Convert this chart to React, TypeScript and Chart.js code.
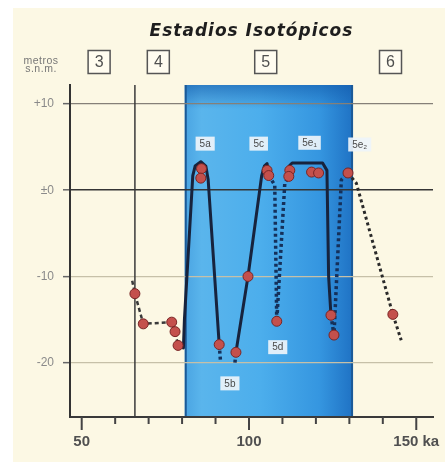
import React, { useEffect, useRef } from 'react';
import { Chart, registerables } from 'chart.js';

Chart.register(...registerables);

const W = 445;
const H = 462;

// Axis ranges (ka, metres a.s.l.)
const xMin = 46.5;
const xMax = 155;
const yMin = -26.3;
const yMax = 12.2;

const xTickValues = [50, 60, 70, 80, 90, 100, 110, 120, 130, 140, 150];
const xMajorValues = [50, 100, 150];
const xMajorLabels = ['50', '100', '150 ka'];
const yTickValues = [10, 0, -10, -20];
const yTickLabels = ['+10', '±0', '-10', '-20'];

// Isotope stages
const stageLabels = ['3', '4', '5', '6'];
const stageCenters = [55.2, 72.9, 105.0, 142.3];
const stageBoundary = 65.9;
const stage5Start = 80.8;
const stage5End = 131.1;

// Sample points (red circles)
const sampleX = [65.9, 68.4, 76.9, 77.9, 78.8, 85.8, 85.6, 91.1, 96.1, 99.7, 105.4, 105.9, 108.3, 112.2, 111.9, 118.7, 120.8, 124.5, 125.4, 129.6, 143.0];
const sampleY = [-12.0, -15.5, -15.3, -16.4, -18.0, 2.5, 1.4, -17.9, -18.8, -10.0, 2.3, 1.7, -15.2, 2.3, 1.6, 2.1, 2.0, -14.5, -16.8, 2.0, -14.4];

// Sea-level curve pieces
const leftPathX = [65.1, 65.9, 68.4, 76.9, 77.9, 78.8];
const leftPathY = [-10.5, -12.0, -15.5, -15.3, -16.4, -18.0];

const solid5aX = [80.4, 80.7, 83.2, 83.9, 85.6, 87.1, 87.8, 91.1];
const solid5aY = [-18.3, -15.0, 1.7, 2.8, 3.3, 2.8, 1.2, -17.9];

const stub5bLeftX = [91.1, 91.5];
const stub5bLeftY = [-17.9, -19.9];
const stub5bRightX = [95.8, 96.1];
const stub5bRightY = [-20.0, -18.8];

const solid5cX = [96.1, 99.7, 103.8, 104.6, 105.4, 105.9];
const solid5cY = [-18.8, -10.0, 1.7, 2.8, 3.1, 1.7];

const dotted5dX = [105.9, 107.7, 108.3, 110.7, 111.9];
const dotted5dY = [1.7, 0.6, -15.2, 0.8, 1.6];

const solid5eX = [111.9, 112.0, 112.9, 122.0, 123.3, 123.8, 124.5];
const solid5eY = [1.6, 2.8, 3.15, 3.15, 2.3, -10.0, -14.5];

const dotted5eX = [124.5, 125.4, 127.6, 129.6];
const dotted5eY = [-14.5, -16.8, 1.2, 2.0];

const rightPathX = [129.6, 132.1, 143.0, 145.5];
const rightPathY = [2.0, 0.8, -14.4, -17.4];

// Sub-stage labels
const peakLabels = ['5a', '5c', '5e₁', '5e₂', '5b', '5d'];
const peakLabelX = [86.9, 102.9, 118.1, 133.1, 94.3, 108.6];
const peakLabelY = [5.4, 5.4, 5.5, 5.3, -22.4, -18.2];

function zip(xs: number[], ys: number[]) {
  return xs.map((x, i) => ({ x, y: ys[i] }));
}

function lineDs(label: string, xs: number[], ys: number[], color: string, width: number, dash: number[], cap: string = 'butt') {
  return {
    label,
    data: zip(xs, ys),
    showLine: true,
    borderColor: color,
    backgroundColor: color,
    borderWidth: width,
    borderDash: dash,
    borderCapStyle: cap,
    borderJoinStyle: 'round',
    pointRadius: 0,
    pointHoverRadius: 0,
    tension: 0,
    fill: false,
    order: 2,
  };
}

const decor = {
  id: 'decor',
  beforeDraw(chart: any) {
    const { ctx, chartArea: a, scales } = chart;
    const x = scales.x;
    ctx.save();
    ctx.fillStyle = '#fcf8e4';
    ctx.fillRect(13, 8, W - 13, H - 8);
    const bx0 = x.getPixelForValue(stage5Start);
    const bx1 = x.getPixelForValue(stage5End);
    const g = ctx.createLinearGradient(bx0, 0, bx1, 0);
    g.addColorStop(0, '#4aa4e2');
    g.addColorStop(0.1, '#5ab5ec');
    g.addColorStop(0.45, '#4caeec');
    g.addColorStop(0.8, '#3596e0');
    g.addColorStop(1, '#1f72c4');
    ctx.fillStyle = g;
    ctx.fillRect(bx0, a.top, bx1 - bx0, a.bottom - a.top);
    const gv = ctx.createLinearGradient(0, a.top, 0, a.top + 24);
    gv.addColorStop(0, 'rgba(18,90,170,0.6)');
    gv.addColorStop(1, 'rgba(18,90,170,0)');
    ctx.fillStyle = gv;
    ctx.fillRect(bx0, a.top, bx1 - bx0, 24);
    ctx.strokeStyle = '#1b5a98';
    ctx.lineWidth = 2;
    ctx.beginPath();
    ctx.moveTo(bx0 + 1, a.top);
    ctx.lineTo(bx0 + 1, a.bottom);
    ctx.moveTo(bx1 - 1, a.top);
    ctx.lineTo(bx1 - 1, a.bottom);
    ctx.stroke();
    ctx.restore();
  },
  beforeDatasetsDraw(chart: any) {
    const { ctx, chartArea: a, scales } = chart;
    const px = scales.x.getPixelForValue(stageBoundary);
    ctx.save();
    ctx.strokeStyle = '#3a3a3a';
    ctx.lineWidth = 1.5;
    ctx.beginPath();
    ctx.moveTo(px, a.top);
    ctx.lineTo(px, a.bottom);
    ctx.stroke();
    ctx.restore();
  },
  afterDatasetsDraw(chart: any) {
    const { ctx, scales } = chart;
    ctx.save();
    ctx.font = '10px "Liberation Sans", "DejaVu Sans", sans-serif';
    ctx.textAlign = 'center';
    ctx.textBaseline = 'middle';
    peakLabels.forEach((t, i) => {
      const cx = scales.x.getPixelForValue(peakLabelX[i]);
      const cy = scales.y.getPixelForValue(peakLabelY[i]);
      const w = ctx.measureText(t).width + 8;
      ctx.fillStyle = 'rgba(238,244,250,0.92)';
      ctx.fillRect(cx - w / 2, cy - 7, w, 14);
      ctx.fillStyle = '#4a4a4a';
      ctx.fillText(t, cx, cy + 0.5);
    });
    ctx.restore();
  },
  afterDraw(chart: any) {
    const { ctx, chartArea: a, scales } = chart;
    const x = scales.x;
    ctx.save();
    // x tick marks
    ctx.strokeStyle = '#444';
    ctx.lineWidth = 2;
    xTickValues.forEach((v) => {
      const p = x.getPixelForValue(v);
      const len = xMajorValues.includes(v) ? 13 : 7;
      ctx.beginPath();
      ctx.moveTo(p, a.bottom);
      ctx.lineTo(p, a.bottom + len);
      ctx.stroke();
    });
    // title
    ctx.fillStyle = '#1e1e1e';
    ctx.font = 'italic bold 17px "DejaVu Sans", sans-serif';
    (ctx as any).letterSpacing = '1px';
    ctx.textAlign = 'center';
    ctx.textBaseline = 'middle';
    ctx.fillText('Estadios Isotópicos', (a.left + a.right) / 2, 32);
    (ctx as any).letterSpacing = '0px';
    // stage boxes
    stageLabels.forEach((t, i) => {
      const cx = x.getPixelForValue(stageCenters[i]);
      const cy = a.top - 23;
      ctx.fillStyle = '#fffcf0';
      ctx.fillRect(cx - 11, cy - 11.5, 22, 23);
      ctx.strokeStyle = '#555';
      ctx.lineWidth = 1.5;
      ctx.strokeRect(cx - 11, cy - 11.5, 22, 23);
      ctx.fillStyle = '#505050';
      ctx.font = '16px "Liberation Sans", sans-serif';
      ctx.fillText(t, cx, cy + 1);
    });
    // y axis unit
    ctx.fillStyle = '#777';
    ctx.font = '10.5px "Liberation Sans", sans-serif';
    (ctx as any).letterSpacing = '0.5px';
    ctx.fillText('metros', 41, 61);
    ctx.fillText('s.n.m.', 41, 69.5);
    (ctx as any).letterSpacing = '0px';
    ctx.restore();
  },
};

export default function App() {
  const ref = useRef<HTMLCanvasElement | null>(null);
  useEffect(() => {
    if (!ref.current) return;
    const chart = new Chart(ref.current, {
      type: 'scatter',
      data: {
        datasets: [
          {
            label: 'muestras',
            data: zip(sampleX, sampleY),
            pointRadius: 5,
            pointHoverRadius: 5,
            pointBackgroundColor: '#c4504c',
            pointBorderColor: '#7a2626',
            pointBorderWidth: 1,
            showLine: false,
            order: 0,
          } as any,
          lineDs('4', leftPathX, leftPathY, '#3a3a3a', 2.5, [4, 3]),
          lineDs('5a', solid5aX, solid5aY, '#17233d', 3, [], 'round'),
          lineDs('5b-i', stub5bLeftX, stub5bLeftY, '#15305a', 3.5, [3, 3]),
          lineDs('5b-d', stub5bRightX, stub5bRightY, '#15305a', 3.5, [3, 3]),
          lineDs('5c', solid5cX, solid5cY, '#17233d', 3, [], 'round'),
          lineDs('5d', dotted5dX, dotted5dY, '#15305a', 3.5, [3, 3]),
          lineDs('5e', solid5eX, solid5eY, '#17233d', 3, [], 'round'),
          lineDs('5e-b', dotted5eX, dotted5eY, '#15305a', 3.5, [3, 3]),
          lineDs('6', rightPathX, rightPathY, '#2a2a2a', 3, [3, 3]),
        ] as any,
      },
      options: {
        responsive: false,
        animation: false,
        devicePixelRatio: 1,
        events: [],
        layout: { padding: { top: 85, right: 12, left: 0, bottom: 0 } },
        plugins: { legend: { display: false }, tooltip: { enabled: false }, title: { display: false } },
        scales: {
          x: {
            type: 'linear',
            min: xMin,
            max: xMax,
            afterFit: (s: any) => {
              s.height = H - 417;
              s.paddingLeft = 0;
              s.paddingRight = 0;
            },
            afterBuildTicks: (s: any) => {
              s.ticks = xTickValues.map((v) => ({ value: v }));
            },
            grid: { drawOnChartArea: false, drawTicks: false },
            border: { display: true, color: '#3a3a3a', width: 2 },
            ticks: {
              autoSkip: false,
              maxRotation: 0,
              padding: 16,
              color: '#505050',
              font: { family: '"Liberation Sans", sans-serif', size: 15, weight: 'bold' },
              callback: (v: any) => {
                const i = xMajorValues.indexOf(Number(v));
                return i >= 0 ? xMajorLabels[i] : '';
              },
            },
          },
          y: {
            type: 'linear',
            min: yMin,
            max: yMax,
            afterFit: (s: any) => {
              s.width = 70;
              s.paddingTop = 0;
              s.paddingBottom = 0;
            },
            afterBuildTicks: (s: any) => {
              s.ticks = yTickValues.map((v) => ({ value: v }));
            },
            grid: {
              drawTicks: true,
              tickLength: 7,
              tickColor: '#666',
              tickWidth: 1.5,
              color: (c: any) => {
                const v = c.tick ? c.tick.value : 0;
                if (v === 0) return '#353535';
                if (v === 10) return '#858078';
                return '#c6c0a8';
              },
              lineWidth: (c: any) => {
                const v = c.tick ? c.tick.value : 0;
                return v === 0 ? 1.6 : 1.3;
              },
            },
            border: { display: true, color: '#333', width: 2 },
            ticks: {
              padding: 9,
              color: '#8a8a8a',
              font: { family: '"Liberation Sans", sans-serif', size: 12 },
              callback: (v: any) => {
                const i = yTickValues.indexOf(Number(v));
                return i >= 0 ? yTickLabels[i] : '';
              },
            },
          },
        },
      } as any,
      plugins: [decor],
    });
    return () => chart.destroy();
  }, []);
  return (
    <div style={{ position: 'absolute', left: 0, top: 0, width: W, height: H }}>
      <canvas ref={ref} width={W} height={H} style={{ width: W, height: H, display: 'block' }} />
    </div>
  );
}
